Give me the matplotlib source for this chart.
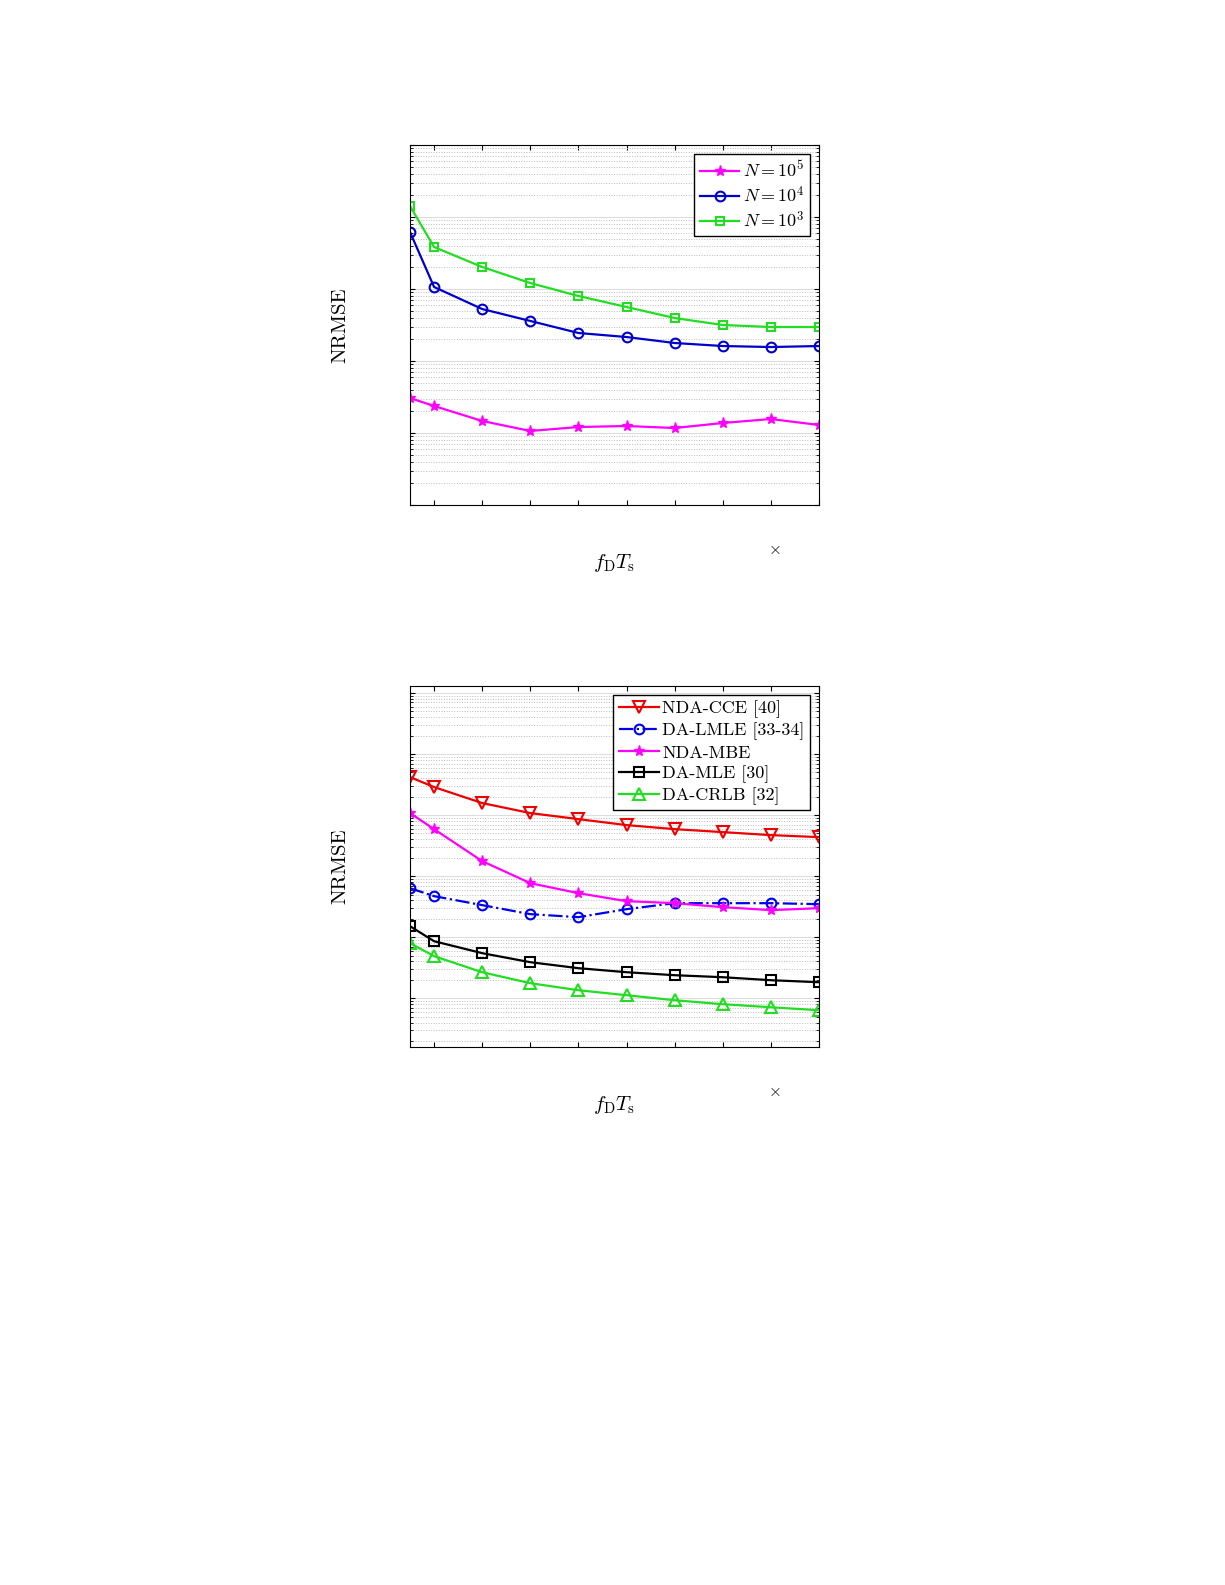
import matplotlib
matplotlib.use("Agg")
import matplotlib.pyplot as plt
import numpy as np
from matplotlib.ticker import LogLocator, NullFormatter, FixedLocator

plt.rcParams['font.family'] = 'serif'
plt.rcParams['font.serif'] = ['cmr10', 'DejaVu Serif']
plt.rcParams['mathtext.fontset'] = 'cm'
plt.rcParams['axes.formatter.use_mathtext'] = True

x = [0.5, 1, 2, 3, 4, 5, 6, 7, 8, 9]
xticks = [1, 2, 3, 4, 5, 6, 7, 8, 9]

# top panel (log10 values)
top_n5 = [-3.514, -3.625, -3.833, -3.972, -3.917, -3.903, -3.931, -3.861, -3.806, -3.889]
top_n4 = [-1.208, -1.972, -2.278, -2.444, -2.611, -2.667, -2.75, -2.792, -2.806, -2.792]
top_n3 = [-0.847, -1.417, -1.694, -1.917, -2.097, -2.25, -2.403, -2.5, -2.528, -2.528]

# bottom panel (log10 values)
cce = [-1.377, -1.541, -1.803, -1.967, -2.066, -2.164, -2.23, -2.279, -2.328, -2.361]
lmle = [-3.197, -3.328, -3.475, -3.623, -3.672, -3.541, -3.443, -3.443, -3.443, -3.459]
mbe = [-1.967, -2.23, -2.754, -3.115, -3.279, -3.41, -3.443, -3.508, -3.557, -3.525]
mle = [-3.82, -4.066, -4.262, -4.41, -4.508, -4.574, -4.623, -4.656, -4.705, -4.738]
crlb = [-4.098, -4.311, -4.574, -4.754, -4.869, -4.951, -5.033, -5.098, -5.148, -5.197]

fig = plt.figure(figsize=(12.25, 15.85), dpi=100)

def style(ax, ylim):
    ax.set_yscale('log')
    ax.set_xlim(0.5, 9)
    ax.set_ylim(*ylim)
    ax.xaxis.set_major_locator(FixedLocator(xticks))
    ax.yaxis.set_major_locator(LogLocator(base=10, numticks=20))
    ax.yaxis.set_minor_locator(LogLocator(base=10, subs=np.arange(2, 10), numticks=20))
    ax.xaxis.set_major_formatter(NullFormatter())
    ax.yaxis.set_major_formatter(NullFormatter())
    ax.yaxis.set_minor_formatter(NullFormatter())
    ax.tick_params(which='both', direction='in', top=True, right=True)
    ax.grid(True, which='major', axis='y', color='#dddddd', lw=0.8)
    ax.grid(True, which='minor', axis='y', color='#bbbbbb', ls=':', lw=0.7)
    for s in ax.spines.values():
        s.set_linewidth(0.8)
    ax.set_ylabel('NRMSE', fontsize=15, labelpad=40)
    ax.set_xlabel(r'$f_{\rm D}T_{\rm s}$', fontsize=15, labelpad=30)
    ax.text(0.89, -0.135, r'$\times$', transform=ax.transAxes, fontsize=12, ha='center')

p = lambda v: 10 ** np.array(v)

ax1 = fig.add_axes([0.3347, 0.6814, 0.3339, 0.2271])
ax1.plot(x, p(top_n5), '-*', color='#ff00ff', lw=1.6, ms=8, label=r'$N=10^5$')
ax1.plot(x, p(top_n4), '-o', color='#0000cc', lw=1.6, ms=7, mfc='none', mew=1.5, label=r'$N=10^4$')
ax1.plot(x, p(top_n3), '-s', color='#22dd22', lw=1.6, ms=6, mfc='none', mew=1.5, label=r'$N=10^3$')
style(ax1, (10 ** -5, 10 ** 0))
ax1.legend(loc='upper right', fontsize=13, fancybox=False, edgecolor='black', framealpha=1,
           handlelength=2.2, handletextpad=0.2, borderpad=0.3, labelspacing=0.25)

ax2 = fig.add_axes([0.3347, 0.3394, 0.3339, 0.2278])
ax2.plot(x, p(cce), '-v', color='#ee0000', lw=1.6, ms=9, mfc='none', mew=1.5, label='NDA-CCE [40]')
ax2.plot(x, p(lmle), '-.o', color='#0000ee', lw=1.6, ms=7, mfc='none', mew=1.5, label='DA-LMLE [33-34]')
ax2.plot(x, p(mbe), '-*', color='#ff00ff', lw=1.6, ms=8, label='NDA-MBE')
ax2.plot(x, p(mle), '-s', color='black', lw=1.6, ms=7, mfc='none', mew=1.5, label='DA-MLE [30]')
ax2.plot(x, p(crlb), '-^', color='#22dd22', lw=1.6, ms=9, mfc='none', mew=1.5, label='DA-CRLB [32]')
style(ax2, (10 ** -5.8, 10 ** 0.115))
ax2.legend(loc='upper right', fontsize=13, fancybox=False, edgecolor='black', framealpha=1,
           handlelength=2.2, handletextpad=0.2, borderpad=0.3, labelspacing=0.25)

fig.savefig('out.png', dpi=100)
